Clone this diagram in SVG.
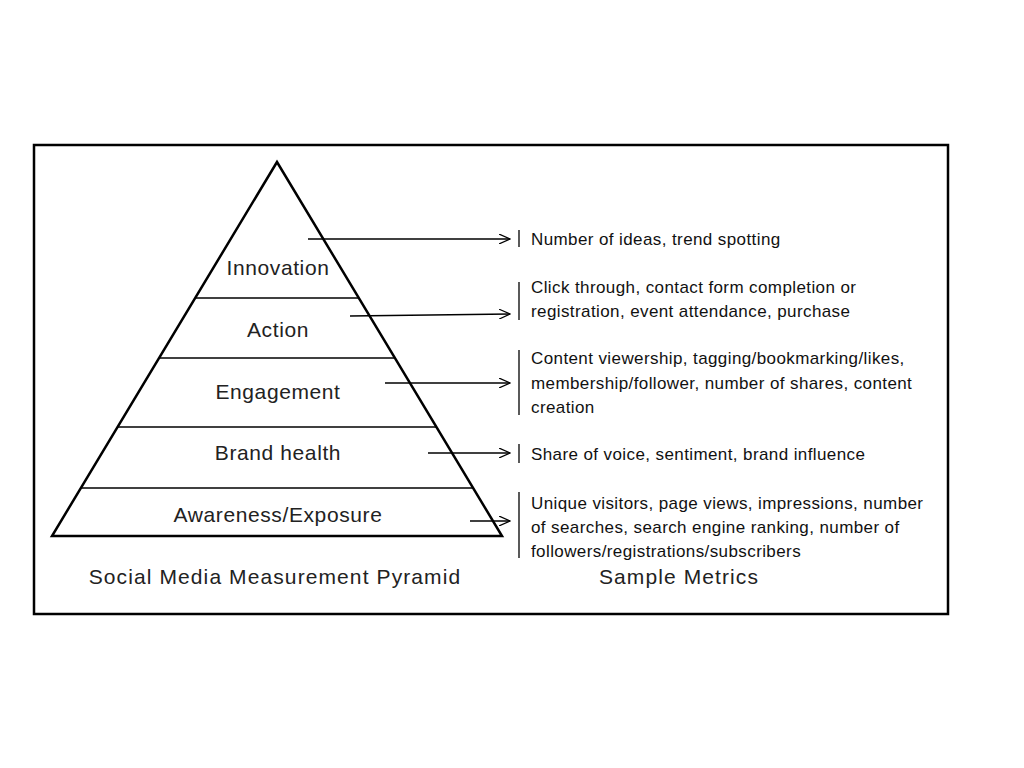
<svg xmlns="http://www.w3.org/2000/svg" width="1024" height="768" viewBox="0 0 1024 768">
<style>
.l{stroke:#000;stroke-width:1.3;fill:none}
.p{font-family:"Liberation Sans",Arial,sans-serif;font-size:21px;letter-spacing:0.6px;fill:#222;text-anchor:middle}
.c{font-family:"Liberation Sans",Arial,sans-serif;font-size:21px;letter-spacing:1.1px;fill:#222;text-anchor:middle}
.m{font-family:"Liberation Sans",Arial,sans-serif;font-size:17px;letter-spacing:0.4px;fill:#111}
</style>
<defs><marker id="a" markerWidth="12" markerHeight="10" refX="11" refY="5" orient="auto" markerUnits="userSpaceOnUse"><path d="M0,0 L11,5 L0,10" fill="none" stroke="#000" stroke-width="1.2"/></marker></defs>
<rect width="1024" height="768" fill="#fff"/>
<rect x="34" y="145" width="914" height="469" fill="none" stroke="#000" stroke-width="2.5"/>
<g id="pyramid">
<polygon points="277,162 52,536 502,536" fill="none" stroke="#000" stroke-width="2.5"/>
<line class="l" x1="195" y1="298" x2="359" y2="298"/>
<line class="l" x1="159" y1="358" x2="395" y2="358"/>
<line class="l" x1="118" y1="427" x2="436" y2="427"/>
<line class="l" x1="81" y1="488" x2="473" y2="488"/>
</g>
<g id="innovation"><text class="p" x="278" y="275">Innovation</text></g>
<g id="action"><text class="p" x="278" y="337">Action</text></g>
<g id="engagement"><text class="p" x="278" y="399">Engagement</text></g>
<g id="brandhealth"><text class="p" x="278" y="460">Brand health</text></g>
<g id="awareness"><text class="p" x="278" y="522">Awareness/Exposure</text></g>
<g id="connectors">
<line class="l" x1="308" y1="239" x2="510" y2="239" marker-end="url(#a)"/>
<line class="l" x1="350" y1="316" x2="510" y2="314" marker-end="url(#a)"/>
<line class="l" x1="385" y1="383" x2="510" y2="383" marker-end="url(#a)"/>
<line class="l" x1="428" y1="453" x2="510" y2="453" marker-end="url(#a)"/>
<line class="l" x1="470" y1="521" x2="510" y2="521" marker-end="url(#a)"/>
<line class="l" x1="519" y1="230" x2="519" y2="247"/>
<line class="l" x1="519" y1="282" x2="519" y2="320"/>
<line class="l" x1="519" y1="350" x2="519" y2="415"/>
<line class="l" x1="519" y1="444" x2="519" y2="463"/>
<line class="l" x1="519" y1="492" x2="519" y2="558"/>
</g>
<g id="metrics">
<text class="m" x="531" y="245">Number of ideas, trend spotting</text>
<text class="m" x="531" y="293">Click through, contact form completion or</text>
<text class="m" x="531" y="317">registration, event attendance, purchase</text>
<text class="m" x="531" y="364">Content viewership, tagging/bookmarking/likes,</text>
<text class="m" x="531" y="389">membership/follower, number of shares, content</text>
<text class="m" x="531" y="413">creation</text>
<text class="m" x="531" y="460">Share of voice, sentiment, brand influence</text>
<text class="m" x="531" y="509">Unique visitors, page views, impressions, number</text>
<text class="m" x="531" y="533">of searches, search engine ranking, number of</text>
<text class="m" x="531" y="557">followers/registrations/subscribers</text>
</g>
<text class="c" x="275" y="584">Social Media Measurement Pyramid</text>
<text class="c" x="679" y="584">Sample Metrics</text>
</svg>
